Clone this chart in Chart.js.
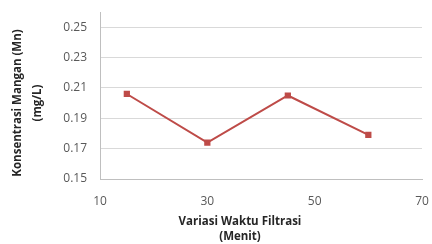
<!DOCTYPE html>
<html>
<head>
<meta charset="utf-8">
<script src="https://cdn.jsdelivr.net/npm/chart.js@4.4.1/dist/chart.umd.min.js"></script>
<style>
  html, body { margin: 0; padding: 0; background: #fff; }
  #wrap { width: 432px; height: 244px; position: relative; }
</style>
</head>
<body>
<div id="wrap"><canvas id="chart"></canvas></div>
<script>
// data
const waktu = [15, 30, 45, 60];
const konsentrasi = [0.206, 0.174, 0.205, 0.179];
const xTicks = [10, 30, 50, 70];
const yTicks = [0.15, 0.17, 0.19, 0.21, 0.23, 0.25];
const yTitle = ['Konsentrasi Mangan (Mn)', '(mg/L)'];
const xTitle = ['Variasi Waktu Filtrasi', '(Menit)'];

const fontFamily = '"Open Sans", "DejaVu Sans", sans-serif';

// axis titles drawn by hand so they sit where the reference has them
const axisTitles = {
    id: 'axisTitles',
    afterDraw(chart) {
        const ctx = chart.ctx;
        ctx.save();
        ctx.fillStyle = '#262626';
        ctx.font = 'bold 11.5px ' + fontFamily;
        ctx.textAlign = 'center';
        ctx.textBaseline = 'middle';

        ctx.save();
        ctx.translate(18, 103);
        ctx.rotate(-Math.PI / 2);
        ctx.fillText(yTitle[0], 0, 0);
        ctx.restore();
        ctx.save();
        ctx.translate(38, 103);
        ctx.rotate(-Math.PI / 2);
        ctx.fillText(yTitle[1], 0, 0);
        ctx.restore();

        ctx.fillText(xTitle[0], 240, 222);
        ctx.fillText(xTitle[1], 240, 237);
        ctx.restore();
    }
};

new Chart(document.getElementById('chart'), {
    type: 'line',
    data: {
        datasets: [{
            data: waktu.map((x, i) => ({ x: x, y: konsentrasi[i] })),
            borderColor: '#be4b48',
            backgroundColor: '#be4b48',
            borderWidth: 2,
            pointStyle: 'rect',
            pointRadius: 3,
            tension: 0
        }]
    },
    options: {
        responsive: true,
        maintainAspectRatio: false,
        animation: false,
        layout: { padding: { top: 12, right: 10, left: 0, bottom: 0 } },
        plugins: {
            legend: { display: false },
            tooltip: { enabled: false }
        },
        scales: {
            x: {
                type: 'linear',
                min: 10,
                max: 70,
                afterFit(scale) {
                    scale.height = 65;
                    scale.paddingLeft = 0;
                    scale.paddingRight = 0;
                },
                afterBuildTicks(scale) { scale.ticks = xTicks.map(v => ({ value: v })); },
                grid: { display: false, drawTicks: false },
                border: { display: true, color: '#bfbfbf', width: 1 },
                ticks: {
                    padding: 15,
                    color: '#595959',
                    font: { family: fontFamily, size: 12 }
                }
            },
            y: {
                min: 0.15,
                max: 0.26,
                afterFit(scale) {
                    scale.width = 100;
                    scale.paddingTop = 0;
                    scale.paddingBottom = 0;
                },
                afterBuildTicks(scale) { scale.ticks = yTicks.map(v => ({ value: v })); },
                grid: { color: '#d9d9d9', drawTicks: false, lineWidth: 1 },
                border: { display: true, color: '#bfbfbf', width: 1 },
                ticks: {
                    padding: 13,
                    color: '#595959',
                    font: { family: fontFamily, size: 12 },
                    callback: v => v.toFixed(2)
                }
            }
        }
    },
    plugins: [axisTitles]
});
</script>
</body>
</html>
